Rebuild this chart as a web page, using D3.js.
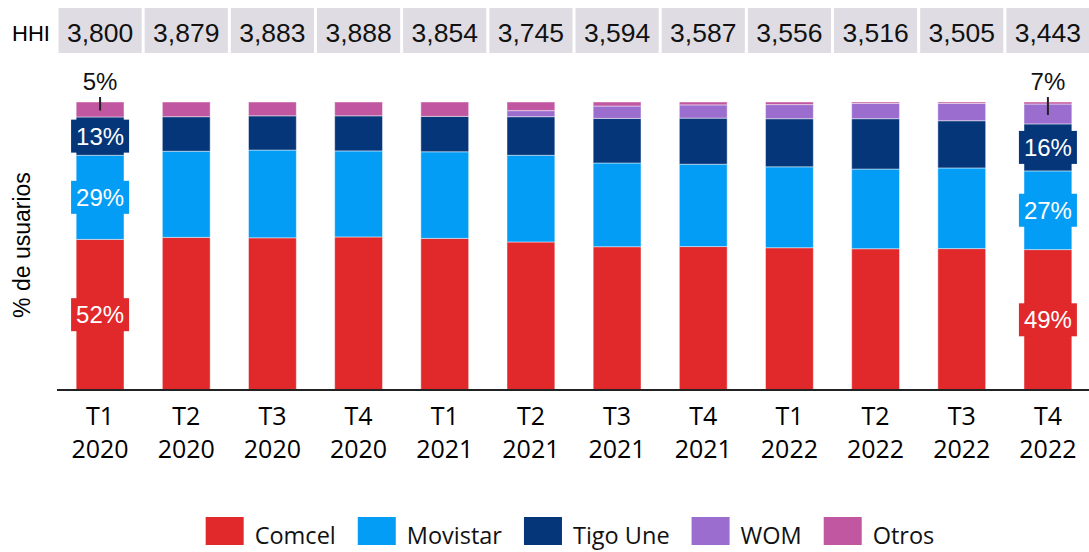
<!DOCTYPE html>
<html>
<head>
<meta charset="utf-8">
<script src="https://d3js.org/d3.v7.min.js"></script>
<style>body{margin:0;background:#fff}</style>
</head>
<body>
<script>
const quarters = ["T1","T2","T3","T4","T1","T2","T3","T4","T1","T2","T3","T4"];
const years = ["2020","2020","2020","2020","2021","2021","2021","2021","2022","2022","2022","2022"];
const hhi = [3800, 3879, 3883, 3888, 3854, 3745, 3594, 3587, 3556, 3516, 3505, 3443];

// market share (% of users)
const comcel   = [52.3, 53.0, 52.9, 53.2, 52.7, 51.4, 49.8, 49.8, 49.4, 49.1, 49.1, 48.7];
const movistar = [29.2, 29.9, 30.5, 29.9, 30.1, 30.1, 29.1, 28.6, 28.1, 27.7, 28.0, 27.3];
const tigo     = [13.3, 12.0, 11.9, 12.2, 12.3, 13.4, 15.5, 16.0, 16.7, 17.5, 16.4, 16.3];
const wom      = [0, 0, 0, 0, 0, 2.1, 4.3, 4.6, 4.9, 5.3, 6.0, 6.9];
const otros    = [5.2, 5.1, 4.8, 4.8, 5.0, 3.0, 1.4, 1.0, 0.9, 0.5, 0.5, 0.7];

const operators = ["Comcel", "Movistar", "Tigo Une", "WOM", "Otros"];
const colors = ["#e1282a", "#039df5", "#06367a", "#9a6dce", "#c157a0"];

const [width, height] = [1089, 552];

const rows = quarters.map((q, i) => ({
    idx: i,
    "Comcel": comcel[i],
    "Movistar": movistar[i],
    "Tigo Une": tigo[i],
    "WOM": wom[i],
    "Otros": otros[i]
}));

const svg = d3.select("body")
    .append("svg")
    .attr("width", width)
    .attr("height", height)
    .style("font-family", "'Liberation Sans', Arial, sans-serif");

const x = d3.scaleBand()
    .domain(d3.range(rows.length))
    .range([57, 1091])
    .paddingInner(0.445)
    .paddingOuter(0.2225);

const y = d3.scaleLinear().domain([0, 1]).range([390, 102]);
const color = d3.scaleOrdinal().domain(operators).range(colors);

const series = d3.stack().keys(operators).offset(d3.stackOffsetExpand)(rows);

// HHI row
const step = x.step();
svg.append("text")
    .attr("x", 12).attr("y", 41)
    .style("font-size", "22px")
    .text("HHI");

const hhiBox = svg.selectAll("g.hhi")
    .data(hhi)
    .enter()
    .append("g")
    .attr("class", "hhi")
    .attr("transform", (d, i) => `translate(${x(i) + x.bandwidth() / 2},0)`);

hhiBox.append("rect")
    .attr("x", -step / 2 + 1.5)
    .attr("y", 8)
    .attr("width", step - 3)
    .attr("height", 45)
    .style("fill", "#dfdde3");

hhiBox.append("text")
    .attr("y", 42)
    .attr("text-anchor", "middle")
    .style("font-size", "26.5px")
    .style("fill", "#111")
    .text(d => d3.format(",")(d));

// bars
svg.append("g")
    .selectAll("g")
    .data(series)
    .enter()
    .append("g")
    .style("fill", d => color(d.key))
    .selectAll("rect")
    .data(d => d)
    .enter()
    .append("rect")
    .attr("x", d => x(d.data.idx))
    .attr("y", d => y(d[1]))
    .attr("width", x.bandwidth())
    .attr("height", d => y(d[0]) - y(d[1]))
    .style("stroke", "rgba(255,255,255,0.45)")
    .style("stroke-width", 1);

// axis line
svg.append("line")
    .attr("x1", 57).attr("x2", width)
    .attr("y1", 390).attr("y2", 390)
    .style("stroke", "#222")
    .style("stroke-width", 2);

// category labels
const tick = svg.selectAll("g.tick")
    .data(rows)
    .enter()
    .append("g")
    .attr("class", "tick")
    .attr("transform", d => `translate(${x(d.idx) + x.bandwidth() / 2},0)`)
    .style("font-family", "'Open Sans', sans-serif")
    .style("font-size", "25px")
    .attr("text-anchor", "middle");

tick.append("text").attr("y", 425).text(d => quarters[d.idx]);
tick.append("text").attr("y", 458).text(d => years[d.idx]);

// y axis title
svg.append("text")
    .attr("transform", "translate(30,245) rotate(-90)")
    .attr("text-anchor", "middle")
    .style("font-size", "23px")
    .text("% de usuarios");

// data labels on first and last bar
const pct = v => Math.round(v * 100) + "%";
const labelled = [{ idx: 0, top: "Otros" }, { idx: rows.length - 1, top: "WOM" }];

labelled.forEach(l => {
    const cx = x(l.idx) + x.bandwidth() / 2;
    ["Comcel", "Movistar", "Tigo Une"].forEach(k => {
        const seg = series.find(s => s.key === k)[l.idx];
        const cy = (y(seg[0]) + y(seg[1])) / 2;
        svg.append("rect")
            .attr("x", cx - 29).attr("y", cy - 16.5)
            .attr("width", 58).attr("height", 33)
            .style("fill", color(k));
        svg.append("text")
            .attr("x", cx).attr("y", cy)
            .attr("dy", "0.36em")
            .attr("text-anchor", "middle")
            .style("fill", "#fff")
            .style("font-size", "24px")
            .text(pct(seg[1] - seg[0]));
    });
    const topSeg = series.find(s => s.key === l.top)[l.idx];
    const segMid = (y(topSeg[0]) + y(topSeg[1])) / 2;
    svg.append("line")
        .attr("x1", cx).attr("x2", cx)
        .attr("y1", 97).attr("y2", Math.max(segMid + 1, 109))
        .style("stroke", "#222")
        .style("stroke-width", 2);
    svg.append("text")
        .attr("x", cx).attr("y", 90)
        .attr("text-anchor", "middle")
        .style("font-size", "24px")
        .style("fill", "#111")
        .text(pct(topSeg[1] - topSeg[0]));
});

// legend
const legend = svg.append("g")
    .style("font-family", "'Open Sans', sans-serif")
    .style("font-size", "23.5px");

let lx = 0;
operators.forEach(k => {
    const item = legend.append("g").attr("transform", `translate(${lx},0)`);
    item.append("rect")
        .attr("width", 38).attr("height", 28)
        .attr("y", 517)
        .style("fill", color(k));
    const t = item.append("text")
        .attr("x", 49).attr("y", 544)
        .style("fill", "#111")
        .text(k);
    lx += 49 + t.node().getComputedTextLength() + 22;
});
legend.attr("transform", `translate(${570 - (lx - 22) / 2},0)`);
</script>
</body>
</html>
